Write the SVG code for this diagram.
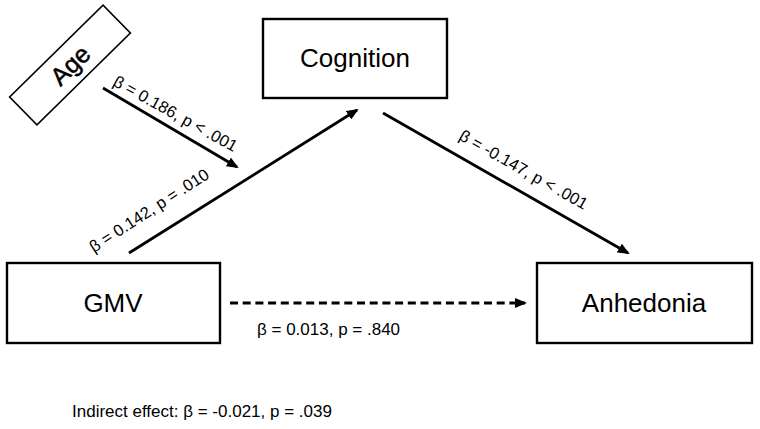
<svg xmlns="http://www.w3.org/2000/svg" width="760" height="429" viewBox="0 0 760 429">
<defs>
<marker id="ah" markerWidth="12" markerHeight="10" refX="10" refY="5" orient="auto" markerUnits="userSpaceOnUse">
<path d="M0,0 L12,5 L0,10 Z" fill="#000"/>
</marker>
<style>
.box{fill:#fff;stroke:#000;stroke-width:2.4}
.node{font-family:"Liberation Sans",Arial,sans-serif;font-size:26px;fill:#000;text-anchor:middle}
.lbl{font-family:"Liberation Sans",Arial,sans-serif;font-size:16.5px;fill:#000}
.ln{stroke:#000;stroke-width:2.8;fill:none}
</style>
</defs>
<rect width="760" height="429" fill="#fff"/>
<g id="cognition">
<rect class="box" x="263" y="19" width="184" height="79"/>
<text class="node" x="355" y="67">Cognition</text>
</g>
<g id="gmv">
<rect class="box" x="7" y="263" width="213" height="80"/>
<text class="node" x="113" y="312">GMV</text>
</g>
<g id="anhedonia">
<rect class="box" x="537" y="263" width="215" height="80"/>
<text class="node" x="644" y="312">Anhedonia</text>
</g>
<g id="age" transform="rotate(-44.5 70 65)">
<rect class="box" x="4.5" y="45.5" width="131" height="39" style="stroke-width:1.6"/>
<text class="node" x="70" y="74" style="font-size:25px;stroke:#000;stroke-width:0.5">Age</text>
</g>
<g id="connectors">
<line class="ln" x1="103" y1="88" x2="237" y2="167" marker-end="url(#ah)"/>
<line class="ln" x1="129" y1="253" x2="357" y2="110" marker-end="url(#ah)"/>
<line class="ln" x1="383" y1="113" x2="628" y2="253" marker-end="url(#ah)"/>
<line class="ln" x1="230" y1="303" x2="525" y2="303" stroke-dasharray="8,4.7" marker-end="url(#ah)"/>
<text class="lbl" transform="translate(112,85) rotate(29)">β = 0.186, p &lt; .001</text>
<text class="lbl" transform="translate(94,253) rotate(-33)">β = 0.142, p = .010</text>
<text class="lbl" transform="translate(458,139) rotate(29.5)">β = -0.147, p &lt; .001</text>
<text class="lbl" x="257" y="335" style="font-size:17px">β = 0.013, p = .840</text>
</g>
<text class="lbl" x="72" y="417" style="font-size:17px">Indirect effect: β = -0.021, p = .039</text>
</svg>
